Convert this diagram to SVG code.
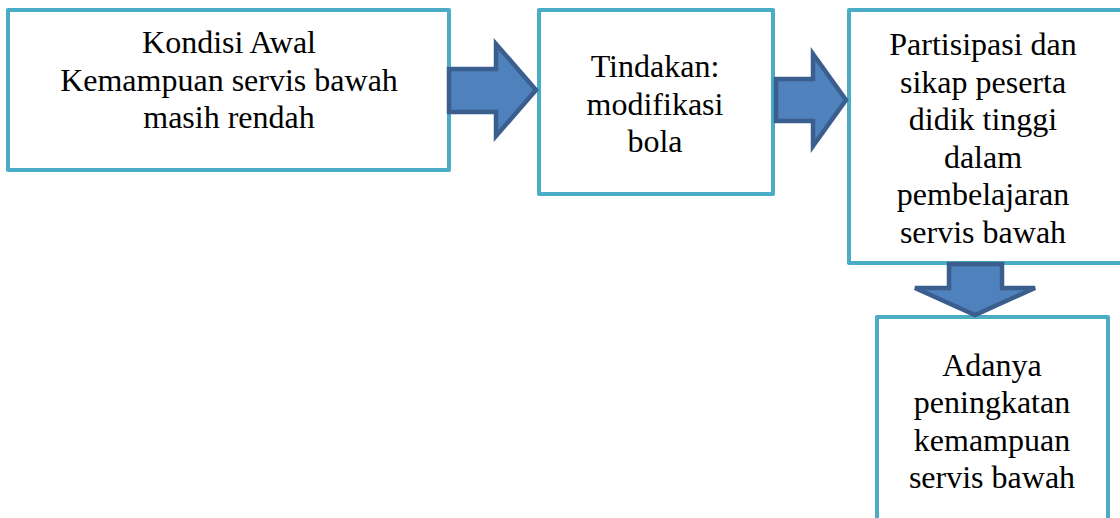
<svg xmlns="http://www.w3.org/2000/svg" width="1120" height="518" viewBox="0 0 1120 518">
<style>
.box{fill:#fff;stroke:#4BACC6;stroke-width:4;stroke-linejoin:round}
.arr{fill:#4F81BD;stroke:#3A5F8E;stroke-width:4.5;stroke-linejoin:miter}
.t{font-family:'Liberation Serif','Times New Roman',serif;font-size:32px;fill:#000;text-anchor:middle}
</style>
<rect width="1120" height="518" fill="#fff"/>
<g id="node1">
<rect class="box" x="8" y="10" width="441" height="160"/>
<text class="t" x="229" y="53">Kondisi Awal</text>
<text class="t" x="229" y="91">Kemampuan servis bawah</text>
<text class="t" x="229" y="128">masih rendah</text>
</g>
<g id="node2">
<rect class="box" x="539" y="10" width="234" height="184"/>
<text class="t" x="655" y="77">Tindakan:</text>
<text class="t" x="655" y="115">modifikasi</text>
<text class="t" x="655" y="152">bola</text>
</g>
<g id="node3">
<rect class="box" x="849" y="10" width="274" height="253"/>
<text class="t" x="983" y="55">Partisipasi dan</text>
<text class="t" x="983" y="93">sikap peserta</text>
<text class="t" x="983" y="130">didik tinggi</text>
<text class="t" x="983" y="168">dalam</text>
<text class="t" x="983" y="205">pembelajaran</text>
<text class="t" x="983" y="243">servis bawah</text>
</g>
<g id="node4">
<rect class="box" x="877" y="317" width="231" height="220"/>
<text class="t" x="992" y="376">Adanya</text>
<text class="t" x="992" y="413">peningkatan</text>
<text class="t" x="992" y="451">kemampuan</text>
<text class="t" x="992" y="488">servis bawah</text>
</g>
<g id="connectors">
<polygon class="arr" points="449,69 496,69 496,44 536,90 496,136 496,112 449,112"/>
<polygon class="arr" points="776,79 813,79 813,54 846,100 813,146 813,121 776,121"/>
<polygon class="arr" points="949,264 1002,264 1002,288 1035,288 975,315 915,288 949,288"/>
</g>
</svg>
